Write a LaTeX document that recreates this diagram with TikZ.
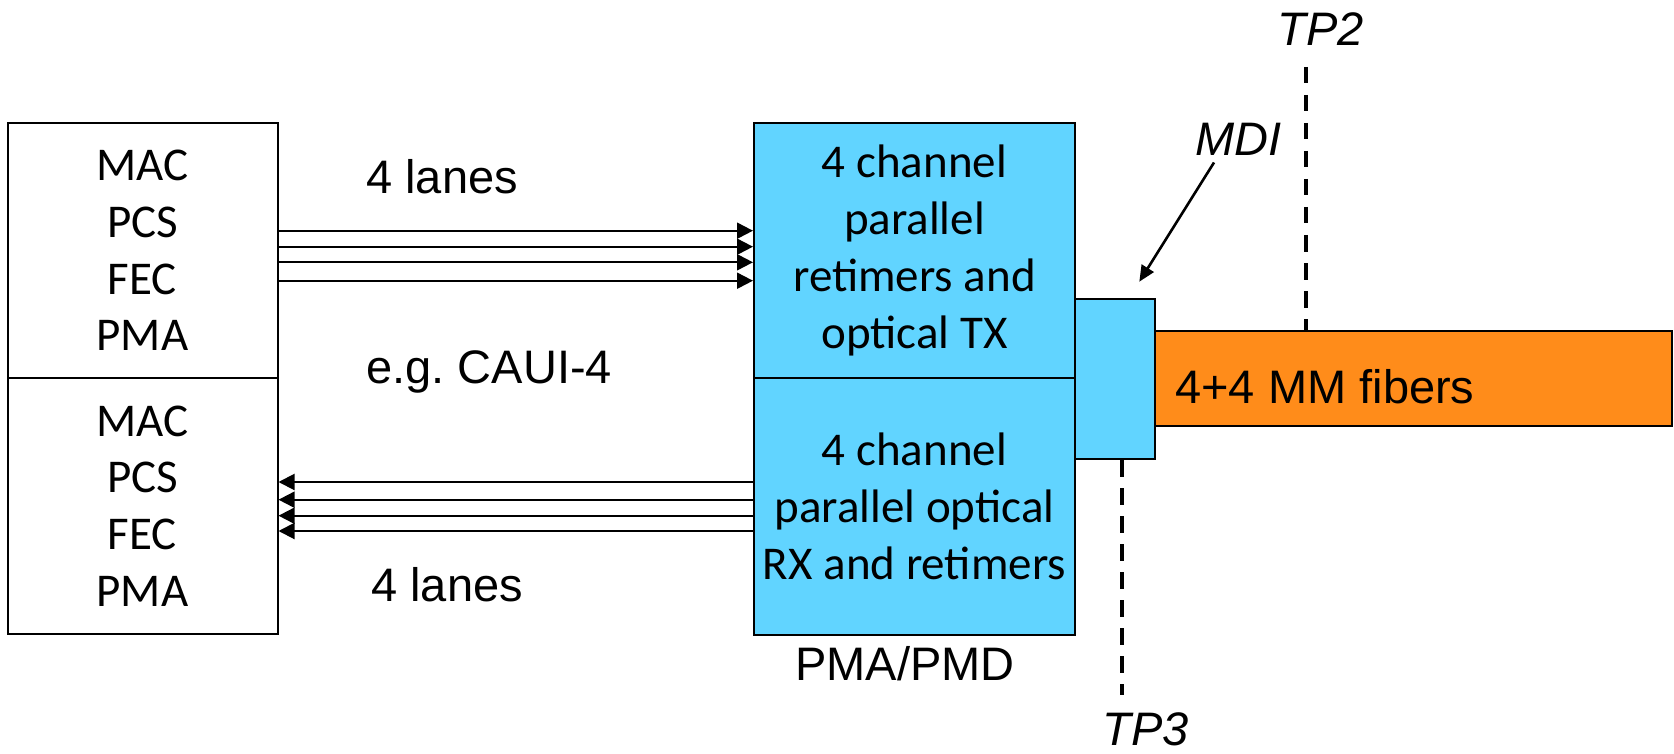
\documentclass[tikz,border=0pt]{standalone}
\usepackage{fontspec}
\setmainfont{Carlito}
\newfontfamily\arialfont{Liberation Sans}
\usetikzlibrary{arrows.meta,calc}
\definecolor{cyanbox}{RGB}{97,212,255}
\definecolor{fiberorange}{RGB}{255,140,26}
\begin{document}
\begin{tikzpicture}[x=0.5pt,y=-0.5pt,
  box/.style={draw,line width=1pt,inner sep=0pt,align=center,font=\fontsize{23.5}{28.35}\selectfont},
  lane/.style={line width=1pt,-{Triangle[length=8pt,width=8pt]}},
  lbl/.style={font=\arialfont\fontsize{23.5}{28}\selectfont,inner sep=0pt},
  ilbl/.style={font=\arialfont\itshape\fontsize{23.5}{28}\selectfont,inner sep=0pt},
  tpline/.style={line width=1.65pt,dash pattern=on 8.25pt off 5.75pt}]
\useasboundingbox (0,0) rectangle (1674,754);
% left boxes
\node[box,minimum width=135pt,minimum height=127.5pt] (lt) at (142.5,250.5) {MAC\\PCS\\FEC\\PMA};
\node[box,minimum width=135pt,minimum height=128pt] (lb) at (142.5,506) {MAC\\PCS\\FEC\\PMA};
% PMA/PMD boxes
\node[box,fill=cyanbox,minimum width=160.5pt,minimum height=127.5pt] (bt) at (914.5,250.5) {4 channel\\parallel\\retimers and\\optical TX};
\node[box,fill=cyanbox,minimum width=160.5pt,minimum height=128.5pt] (bb) at (914.5,506.5) {4 channel\\parallel optical\\RX and retimers};
% fiber and connector
\node[box,fill=fiberorange,minimum width=258.5pt,minimum height=47.5pt] (fib) at (1413.5,378.5) {};
\node[box,fill=cyanbox,minimum width=40pt,minimum height=80pt] (mdi) at (1115,379) {};
% lanes
\foreach \y in {230.7,246.7,262.3,280.7} {
  \coordinate (yy) at (0,\y);
  \draw[lane] (lt.east |- yy) -- (bt.west |- yy);
}
\foreach \y in {482,499.7,515.7,531} {
  \coordinate (yy) at (0,\y);
  \draw[lane] (bb.west |- yy) -- (lb.east |- yy);
}
% labels
\node[lbl,anchor=base west] (lanesA) at (366,193.6) {4 lanes};
\node[lbl,anchor=base west] (caui) at (366,383) {e.g.\ CAUI-4};
\node[lbl,anchor=base west] (lanesB) at (371,601.5) {4 lanes};
\node[lbl,anchor=base west] (pmd) at (795,680) {PMA/PMD};
\node[lbl,anchor=base west] (fibl) at (1175,403) {4+4 MM fibers};
\node[ilbl,anchor=base west] (tp2) at (1277,46) {TP2};
\node[ilbl,anchor=base west] (mdil) at (1195,156) {MDI};
\node[ilbl,anchor=base west] (tp3) at (1102,745) {TP3};
% test point lines
\coordinate (tp2top) at (1306,67);
\draw[tpline] (tp2top) -- (tp2top |- fib.north);
\coordinate (tp3bot) at (1122,695);
\draw[tpline] (tp3bot |- mdi.south) -- (tp3bot);
% MDI arrow
\coordinate (mditip) at (1139.3,281.7);
\draw[line width=1.3pt,-{Triangle[length=8pt,width=7pt]}] ($(mdil.base west)+(19,6.5)$) -- (mditip);
\end{tikzpicture}
\end{document}
